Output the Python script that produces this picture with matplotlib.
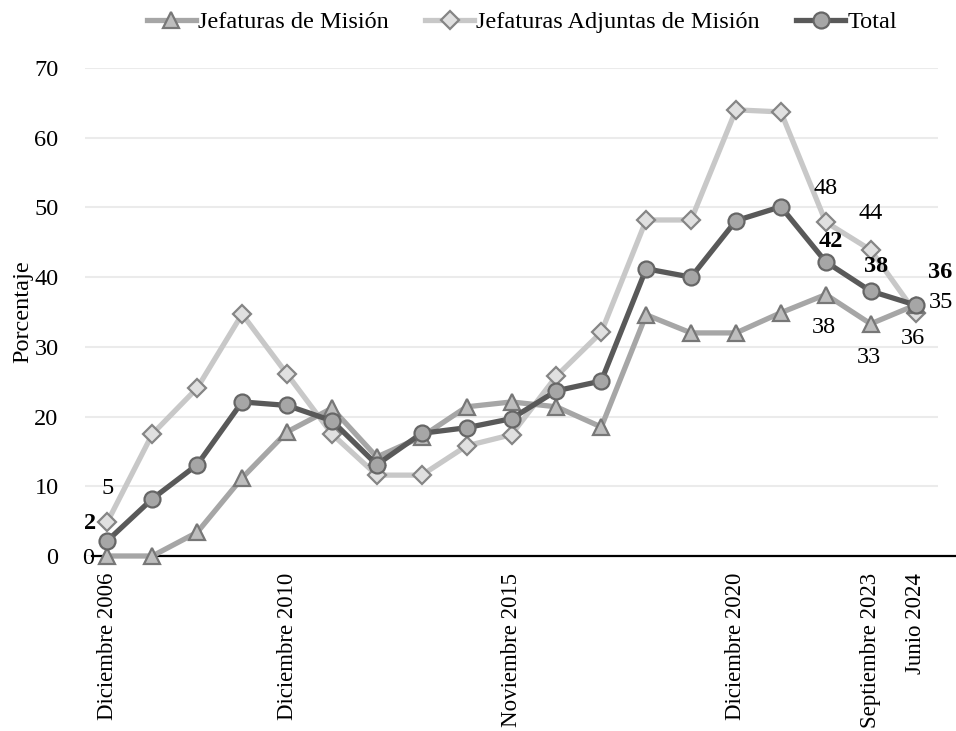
import matplotlib
matplotlib.use("Agg")
import matplotlib.pyplot as plt

plt.rcParams["font.family"] = ["Liberation Serif", "DejaVu Serif"]

# Period labels (only some periods carry a visible label on the axis)
periods = ["Diciembre 2006", "", "", "", "Diciembre 2010", "", "", "", "",
           "Noviembre 2015", "", "", "", "", "Diciembre 2020", "", "",
           "Septiembre 2023", "Junio 2024"]

jefaturas = [0, 0, 3.4, 11.2, 17.8, 21.2, 14.2, 17.1, 21.4, 22.1, 21.4, 18.5,
             34.6, 32.0, 32.0, 34.9, 37.5, 33.3, 36.0]
adjuntas = [4.9, 17.5, 24.1, 34.7, 26.1, 17.5, 11.6, 11.6, 15.8, 17.4, 25.8,
            32.1, 48.2, 48.2, 64.0, 63.7, 47.9, 43.9, 34.9]
total = [2.2, 8.2, 13.1, 22.1, 21.6, 19.4, 13.1, 17.6, 18.4, 19.7, 23.7, 25.1,
         41.2, 40.0, 48.1, 50.1, 42.2, 38.0, 36.0]

names = ["Jefaturas de Misión", "Jefaturas Adjuntas de Misión", "Total"]

x = list(range(len(periods)))
FS = 17.5

fig = plt.figure(figsize=(9.56, 7.31), dpi=100)
ax = fig.add_axes([85 / 956, 1 - 556 / 731, (938 - 85) / 956, (556 - 68) / 731])

l_adj, = ax.plot(x, adjuntas, color="#c8c8c8", lw=3.8, marker="D", ms=9.5,
                 mfc="#e0e0e0", mec="#858585", mew=1.6, zorder=3,
                 label=names[1])
l_jef, = ax.plot(x, jefaturas, color="#a6a6a6", lw=3.8, marker="^", ms=12,
                 mfc="#bdbdbd", mec="#777777", mew=1.6, zorder=4,
                 label=names[0], clip_on=False)
l_tot, = ax.plot(x, total, color="#595959", lw=3.8, marker="o", ms=11.5,
                 mfc="#a6a6a6", mec="#666666", mew=1.6, zorder=5,
                 label=names[2], clip_on=False)

ax.set_xlim(-0.5, 18.5)
ax.set_ylim(0, 70)
ax.set_yticks(range(0, 71, 10))
ax.set_xticks(x)
ax.set_xticklabels(periods, rotation=90, fontsize=16.5)
ax.tick_params(axis="y", length=0, labelsize=FS, pad=19)
ax.tick_params(axis="x", length=0, pad=12)
for s in ax.spines.values():
    s.set_visible(False)
ax.grid(axis="y", color="#ebebeb", lw=1.5)
ax.set_axisbelow(True)
ax.axhline(0, xmin=0.008, xmax=1.021, color="black", lw=1.6, clip_on=False,
           zorder=2)
ax.set_ylabel("Porcentaje", fontsize=FS, labelpad=1)

# Value labels
def lab(i, series, dx, dy, bold=False, ha="center"):
    ax.annotate(f"{series[i]:.0f}", (x[i], series[i]), xytext=(dx, dy),
                textcoords="offset pixels", ha=ha, va="center", fontsize=FS,
                fontweight="bold" if bold else "normal", zorder=6,
                annotation_clip=False)

lab(0, total, -17, 17, bold=True)
lab(0, adjuntas, 0, 33)
lab(0, jefaturas, -19, -2)
for i, dy in [(16, 34), (17, 36)]:
    lab(i, adjuntas, 0, dy)
lab(18, adjuntas, 25, 10)
lab(16, total, 5, 20, bold=True)
lab(17, total, 5, 25, bold=True)
lab(18, total, 25, 33, bold=True)
lab(16, jefaturas, -2, -33)
lab(17, jefaturas, -2, -34)
lab(18, jefaturas, -3, -33)

fig.legend(handles=[l_jef, l_adj, l_tot], loc="center", ncol=3,
           bbox_to_anchor=(522 / 956, 1 - 22 / 731), frameon=False,
           fontsize=FS, handlelength=2.0, handletextpad=0.1,
           columnspacing=1.5, borderaxespad=0)

fig.savefig("out.png", dpi=100)
